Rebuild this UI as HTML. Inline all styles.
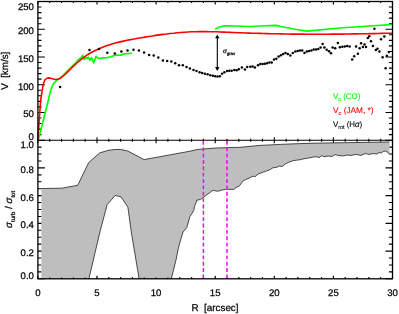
<!DOCTYPE html><html><head><meta charset="utf-8"><style>html,body{margin:0;padding:0;background:#fff}svg{display:block;will-change:transform}text{font-family:"Liberation Sans",sans-serif;fill:#000;text-rendering:geometricPrecision;stroke:#000;stroke-width:0.25px}</style></head><body>
<svg width="399" height="314" viewBox="0 0 399 314">
<rect width="399" height="314" fill="#fff"/>
<path d="M37.9,140.20 h7.0 M392.5,140.20 h-7.0 M37.9,134.65 h3.6 M392.5,134.65 h-3.6 M37.9,129.10 h3.6 M392.5,129.10 h-3.6 M37.9,123.56 h3.6 M392.5,123.56 h-3.6 M37.9,118.01 h3.6 M392.5,118.01 h-3.6 M37.9,112.46 h7.0 M392.5,112.46 h-7.0 M37.9,106.91 h3.6 M392.5,106.91 h-3.6 M37.9,101.36 h3.6 M392.5,101.36 h-3.6 M37.9,95.82 h3.6 M392.5,95.82 h-3.6 M37.9,90.27 h3.6 M392.5,90.27 h-3.6 M37.9,84.72 h7.0 M392.5,84.72 h-7.0 M37.9,79.17 h3.6 M392.5,79.17 h-3.6 M37.9,73.62 h3.6 M392.5,73.62 h-3.6 M37.9,68.08 h3.6 M392.5,68.08 h-3.6 M37.9,62.53 h3.6 M392.5,62.53 h-3.6 M37.9,56.98 h7.0 M392.5,56.98 h-7.0 M37.9,51.43 h3.6 M392.5,51.43 h-3.6 M37.9,45.88 h3.6 M392.5,45.88 h-3.6 M37.9,40.34 h3.6 M392.5,40.34 h-3.6 M37.9,34.79 h3.6 M392.5,34.79 h-3.6 M37.9,29.24 h7.0 M392.5,29.24 h-7.0 M37.9,23.69 h3.6 M392.5,23.69 h-3.6 M37.9,18.14 h3.6 M392.5,18.14 h-3.6 M37.9,12.60 h3.6 M392.5,12.60 h-3.6 M37.9,7.05 h3.6 M392.5,7.05 h-3.6 M37.9,1.50 h7.0 M392.5,1.50 h-7.0 M37.9,278.80 h7.0 M392.5,278.80 h-7.0 M37.9,271.87 h3.6 M392.5,271.87 h-3.6 M37.9,264.94 h3.6 M392.5,264.94 h-3.6 M37.9,258.01 h3.6 M392.5,258.01 h-3.6 M37.9,251.08 h7.0 M392.5,251.08 h-7.0 M37.9,244.15 h3.6 M392.5,244.15 h-3.6 M37.9,237.22 h3.6 M392.5,237.22 h-3.6 M37.9,230.29 h3.6 M392.5,230.29 h-3.6 M37.9,223.36 h7.0 M392.5,223.36 h-7.0 M37.9,216.43 h3.6 M392.5,216.43 h-3.6 M37.9,209.50 h3.6 M392.5,209.50 h-3.6 M37.9,202.57 h3.6 M392.5,202.57 h-3.6 M37.9,195.64 h7.0 M392.5,195.64 h-7.0 M37.9,188.71 h3.6 M392.5,188.71 h-3.6 M37.9,181.78 h3.6 M392.5,181.78 h-3.6 M37.9,174.85 h3.6 M392.5,174.85 h-3.6 M37.9,167.92 h7.0 M392.5,167.92 h-7.0 M37.9,160.99 h3.6 M392.5,160.99 h-3.6 M37.9,154.06 h3.6 M392.5,154.06 h-3.6 M37.9,147.13 h3.6 M392.5,147.13 h-3.6 M37.9,140.20 h7.0 M392.5,140.20 h-7.0 M37.90,1.5 v3.0 M37.90,137.2 v6.0 M37.90,278.8 v-3.0 M49.72,1.5 v1.5 M49.72,138.7 v3.0 M49.72,278.8 v-1.5 M61.54,1.5 v1.5 M61.54,138.7 v3.0 M61.54,278.8 v-1.5 M73.36,1.5 v1.5 M73.36,138.7 v3.0 M73.36,278.8 v-1.5 M85.18,1.5 v1.5 M85.18,138.7 v3.0 M85.18,278.8 v-1.5 M97.00,1.5 v3.0 M97.00,137.2 v6.0 M97.00,278.8 v-3.0 M108.82,1.5 v1.5 M108.82,138.7 v3.0 M108.82,278.8 v-1.5 M120.64,1.5 v1.5 M120.64,138.7 v3.0 M120.64,278.8 v-1.5 M132.46,1.5 v1.5 M132.46,138.7 v3.0 M132.46,278.8 v-1.5 M144.28,1.5 v1.5 M144.28,138.7 v3.0 M144.28,278.8 v-1.5 M156.10,1.5 v3.0 M156.10,137.2 v6.0 M156.10,278.8 v-3.0 M167.92,1.5 v1.5 M167.92,138.7 v3.0 M167.92,278.8 v-1.5 M179.74,1.5 v1.5 M179.74,138.7 v3.0 M179.74,278.8 v-1.5 M191.56,1.5 v1.5 M191.56,138.7 v3.0 M191.56,278.8 v-1.5 M203.38,1.5 v1.5 M203.38,138.7 v3.0 M203.38,278.8 v-1.5 M215.20,1.5 v3.0 M215.20,137.2 v6.0 M215.20,278.8 v-3.0 M227.02,1.5 v1.5 M227.02,138.7 v3.0 M227.02,278.8 v-1.5 M238.84,1.5 v1.5 M238.84,138.7 v3.0 M238.84,278.8 v-1.5 M250.66,1.5 v1.5 M250.66,138.7 v3.0 M250.66,278.8 v-1.5 M262.48,1.5 v1.5 M262.48,138.7 v3.0 M262.48,278.8 v-1.5 M274.30,1.5 v3.0 M274.30,137.2 v6.0 M274.30,278.8 v-3.0 M286.12,1.5 v1.5 M286.12,138.7 v3.0 M286.12,278.8 v-1.5 M297.94,1.5 v1.5 M297.94,138.7 v3.0 M297.94,278.8 v-1.5 M309.76,1.5 v1.5 M309.76,138.7 v3.0 M309.76,278.8 v-1.5 M321.58,1.5 v1.5 M321.58,138.7 v3.0 M321.58,278.8 v-1.5 M333.40,1.5 v3.0 M333.40,137.2 v6.0 M333.40,278.8 v-3.0 M345.22,1.5 v1.5 M345.22,138.7 v3.0 M345.22,278.8 v-1.5 M357.04,1.5 v1.5 M357.04,138.7 v3.0 M357.04,278.8 v-1.5 M368.86,1.5 v1.5 M368.86,138.7 v3.0 M368.86,278.8 v-1.5 M380.68,1.5 v1.5 M380.68,138.7 v3.0 M380.68,278.8 v-1.5 M392.50,1.5 v3.0 M392.50,137.2 v6.0 M392.50,278.8 v-3.0" stroke="#000" stroke-width="1.1" fill="none"/>
<path d="M41.4,188.5 L61.8,188.2 L77.7,185.3 L88.7,162.6 L95.0,157.0 L99.5,153.0 L107.9,150.4 L114.8,149.5 L120.9,149.5 L127.8,151.0 L135.0,154.8 L144.1,159.6 L190.0,151.2 L197.2,149.5 L215.6,148.0 L240.0,147.3 L260.0,145.4 L280.1,144.4 L300.2,143.6 L320.0,143.1 L389.6,142.0 L389.6,154.0 L387.2,152.0 L385.2,151.0 L383.2,151.6 L381.2,153.0 L379.1,152.4 L377.1,154.0 L373.1,153.6 L369.1,154.4 L365.1,153.6 L361.1,155.4 L356.1,154.4 L351.0,155.4 L347.0,155.0 L343.0,156.0 L339.0,155.6 L335.0,154.6 L332.0,156.5 L328.0,156.0 L324.0,156.7 L322.0,155.6 L319.0,157.6 L316.2,156.7 L312.2,157.3 L308.2,158.1 L304.2,158.7 L300.2,159.7 L297.1,160.1 L293.1,160.7 L289.1,162.1 L285.1,164.1 L282.1,166.5 L279.1,166.1 L276.1,167.5 L273.1,167.7 L270.1,169.7 L266.1,171.1 L262.1,172.5 L258.0,174.1 L255.0,176.7 L253.0,176.1 L251.0,177.1 L248.0,178.7 L245.5,179.6 L243.6,180.4 L241.5,183.0 L239.0,186.4 L236.7,187.2 L233.6,189.5 L226.7,189.2 L222.1,190.0 L217.6,191.3 L213.0,190.3 L206.8,194.8 L200.7,199.4 L196.9,200.2 L194.6,206.3 L193.7,210.7 L189.8,216.8 L186.8,227.6 L183.0,232.1 L180.7,239.8 L178.4,248.1 L176.0,259.9 L171.3,278.8 L139.1,278.8 L131.3,232.0 L127.9,207.2 L121.0,196.8 L115.2,195.4 L107.2,204.6 L99.9,232.0 L88.9,278.8 L41.4,278.8 Z" fill="#bebebe" stroke="none"/>
<path d="M41.4,188.5 L61.8,188.2 L77.7,185.3 L88.7,162.6 L95.0,157.0 L99.5,153.0 L107.9,150.4 L114.8,149.5 L120.9,149.5 L127.8,151.0 L135.0,154.8 L144.1,159.6 L190.0,151.2 L197.2,149.5 L215.6,148.0 L240.0,147.3 L260.0,145.4 L280.1,144.4 L300.2,143.6 L320.0,143.1 L389.6,142.0" fill="none" stroke="#222" stroke-width="0.8" stroke-linejoin="round"/>
<path d="M389.6,154.0 L387.2,152.0 L385.2,151.0 L383.2,151.6 L381.2,153.0 L379.1,152.4 L377.1,154.0 L373.1,153.6 L369.1,154.4 L365.1,153.6 L361.1,155.4 L356.1,154.4 L351.0,155.4 L347.0,155.0 L343.0,156.0 L339.0,155.6 L335.0,154.6 L332.0,156.5 L328.0,156.0 L324.0,156.7 L322.0,155.6 L319.0,157.6 L316.2,156.7 L312.2,157.3 L308.2,158.1 L304.2,158.7 L300.2,159.7 L297.1,160.1 L293.1,160.7 L289.1,162.1 L285.1,164.1 L282.1,166.5 L279.1,166.1 L276.1,167.5 L273.1,167.7 L270.1,169.7 L266.1,171.1 L262.1,172.5 L258.0,174.1 L255.0,176.7 L253.0,176.1 L251.0,177.1 L248.0,178.7 L245.5,179.6 L243.6,180.4 L241.5,183.0 L239.0,186.4 L236.7,187.2 L233.6,189.5 L226.7,189.2 L222.1,190.0 L217.6,191.3 L213.0,190.3 L206.8,194.8 L200.7,199.4 L196.9,200.2 L194.6,206.3 L193.7,210.7 L189.8,216.8 L186.8,227.6 L183.0,232.1 L180.7,239.8 L178.4,248.1 L176.0,259.9 L171.3,278.8" fill="none" stroke="#222" stroke-width="0.8" stroke-linejoin="round"/>
<path d="M139.1,278.8 L131.3,232.0 L127.9,207.2 L121.0,196.8 L115.2,195.4 L107.2,204.6 L99.9,232.0 L88.9,278.8" fill="none" stroke="#222" stroke-width="0.8" stroke-linejoin="round"/>
<path d="M37.90,278.8 v-1.4 M49.72,278.8 v-1.4 M61.54,278.8 v-1.4 M73.36,278.8 v-1.4 M85.18,278.8 v-1.4 M97.00,278.8 v-1.4 M108.82,278.8 v-1.4 M120.64,278.8 v-1.4 M132.46,278.8 v-1.4 M144.28,278.8 v-1.4 M156.10,278.8 v-1.4 M167.92,278.8 v-1.4 M179.74,278.8 v-1.4 M191.56,278.8 v-1.4 M203.38,278.8 v-1.4 M215.20,278.8 v-1.4 M227.02,278.8 v-1.4 M238.84,278.8 v-1.4 M250.66,278.8 v-1.4 M262.48,278.8 v-1.4 M274.30,278.8 v-1.4 M286.12,278.8 v-1.4 M297.94,278.8 v-1.4 M309.76,278.8 v-1.4 M321.58,278.8 v-1.4 M333.40,278.8 v-1.4 M345.22,278.8 v-1.4 M357.04,278.8 v-1.4 M368.86,278.8 v-1.4 M380.68,278.8 v-1.4 M392.50,278.8 v-1.4" stroke="#000" stroke-width="1.1" fill="none"/>
<line x1="203.4" y1="140.9" x2="203.4" y2="278.8" stroke="#ff00ff" stroke-width="1.5" stroke-dasharray="3.9 2.46"/>
<line x1="227.0" y1="140.9" x2="227.0" y2="278.8" stroke="#ff00ff" stroke-width="1.5" stroke-dasharray="3.9 2.46"/>
<path d="M38.4,139.6 L48.4,100.0 L50.3,91.9 L52.2,86.1 L54.1,83.0 L56.7,80.4 L59.2,78.9 L61.8,76.6 L65.6,72.8 L69.4,68.9 L73.3,65.1 L77.1,61.3 L78.1,59.8 L81.1,57.6 L82.7,55.3 L84.2,59.4 L85.7,57.6 L87.2,58.3 L88.5,57.2 L89.8,60.3 L91.5,57.6 L93.7,62.9 L96.1,56.3 L98.0,58.3 L100.3,58.3 L103.3,57.9 L107.1,57.6 L111.0,56.8 L114.8,55.3 L117.9,55.0 L120.9,55.3 L124.0,53.7 L127.8,53.7 L131.9,53.0" fill="none" stroke="#00ff00" stroke-width="1.65" stroke-linejoin="round"/>
<path d="M215.2,28.9 L219.0,27.3 L224.4,25.8 L235.0,26.0 L250.3,26.5 L265.6,25.7 L276.3,25.4 L280.9,26.5 L295.0,29.3 L306.8,31.1 L340.0,28.0 L392.0,24.5" fill="none" stroke="#00ff00" stroke-width="1.65" stroke-linejoin="round"/>
<path d="M37.8,139.6 L40.7,100.0 L42.0,91.9 L43.3,84.2 L44.6,80.4 L46.5,78.5 L49.0,77.9 L51.6,78.5 L55.4,79.5 L58.6,79.1 L61.8,77.2 L65.6,74.0 L69.4,70.2 L73.3,66.3 L76.9,63.0 L80.5,59.9 L84.1,57.1 L87.6,54.7 L91.2,52.5 L94.8,50.7 L98.4,49.0 L102.0,47.5 L105.6,46.1 L109.1,44.9 L112.7,43.8 L116.3,42.8 L119.9,41.9 L123.5,41.1 L127.1,40.3 L130.6,39.6 L134.2,39.0 L137.8,38.3 L141.4,37.7 L145.0,37.1 L148.6,36.5 L152.2,36.0 L155.7,35.4 L159.3,34.9 L162.9,34.4 L166.5,34.0 L170.1,33.5 L173.7,33.2 L177.2,32.8 L180.8,32.5 L184.4,32.2 L188.0,32.0 L191.6,31.8 L195.2,31.7 L198.7,31.6 L202.3,31.6 L205.9,31.6 L209.5,31.7 L213.1,31.7 L216.7,31.8 L220.3,32.0 L223.8,32.1 L227.4,32.2 L231.0,32.4 L234.6,32.5 L238.2,32.7 L241.8,32.8 L245.3,33.0 L248.9,33.1 L252.5,33.2 L256.1,33.3 L259.7,33.4 L263.3,33.5 L266.9,33.6 L270.4,33.7 L274.0,33.8 L277.6,33.8 L281.2,33.9 L284.8,34.0 L288.4,34.0 L291.9,34.1 L295.5,34.1 L299.1,34.1 L302.7,34.1 L306.3,34.2 L309.9,34.2 L313.4,34.2 L317.0,34.2 L320.6,34.2 L324.2,34.2 L327.8,34.2 L331.4,34.1 L335.0,34.1 L338.5,34.1 L342.1,34.1 L345.7,34.0 L349.3,34.0 L352.9,33.9 L356.5,33.9 L360.0,33.8 L363.6,33.8 L367.2,33.7 L370.8,33.6 L374.4,33.6 L378.0,33.5 L381.5,33.4 L385.1,33.3 L388.7,33.3 L392.3,33.2" fill="none" stroke="#ff0000" stroke-width="1.6" stroke-linejoin="round"/>
<circle cx="60.1" cy="87.0" r="1.25" fill="#000"/>
<circle cx="89.5" cy="49.9" r="1.25" fill="#000"/>
<circle cx="99.0" cy="49.0" r="1.25" fill="#000"/>
<circle cx="107.3" cy="52.8" r="1.25" fill="#000"/>
<circle cx="114.8" cy="53.4" r="1.25" fill="#000"/>
<circle cx="121.4" cy="51.4" r="1.25" fill="#000"/>
<circle cx="127.5" cy="50.4" r="1.25" fill="#000"/>
<circle cx="133.5" cy="49.8" r="1.25" fill="#000"/>
<circle cx="138.9" cy="50.6" r="1.25" fill="#000"/>
<circle cx="144.1" cy="52.6" r="1.25" fill="#000"/>
<circle cx="149.1" cy="54.9" r="1.25" fill="#000"/>
<circle cx="153.7" cy="55.5" r="1.25" fill="#000"/>
<circle cx="158.3" cy="57.5" r="1.25" fill="#000"/>
<circle cx="162.9" cy="60.6" r="1.25" fill="#000"/>
<circle cx="167.2" cy="61.0" r="1.25" fill="#000"/>
<circle cx="171.3" cy="61.6" r="1.25" fill="#000"/>
<circle cx="175.2" cy="63.3" r="1.25" fill="#000"/>
<circle cx="179.0" cy="65.2" r="1.25" fill="#000"/>
<circle cx="182.8" cy="65.2" r="1.25" fill="#000"/>
<circle cx="186.5" cy="66.9" r="1.25" fill="#000"/>
<circle cx="189.9" cy="68.4" r="1.25" fill="#000"/>
<circle cx="193.5" cy="69.9" r="1.25" fill="#000"/>
<circle cx="196.5" cy="71.1" r="1.25" fill="#000"/>
<circle cx="199.6" cy="72.2" r="1.25" fill="#000"/>
<circle cx="202.2" cy="73.0" r="1.25" fill="#000"/>
<circle cx="204.8" cy="73.7" r="1.25" fill="#000"/>
<circle cx="207.6" cy="74.2" r="1.25" fill="#000"/>
<circle cx="210.3" cy="75.3" r="1.25" fill="#000"/>
<circle cx="212.9" cy="75.7" r="1.25" fill="#000"/>
<circle cx="215.2" cy="76.3" r="1.25" fill="#000"/>
<circle cx="217.5" cy="76.6" r="1.25" fill="#000"/>
<circle cx="219.8" cy="76.3" r="1.25" fill="#000"/>
<circle cx="222.1" cy="73.7" r="1.25" fill="#000"/>
<circle cx="224.4" cy="72.2" r="1.25" fill="#000"/>
<circle cx="227.1" cy="71.1" r="1.25" fill="#000"/>
<circle cx="229.3" cy="70.7" r="1.25" fill="#000"/>
<circle cx="231.7" cy="70.7" r="1.25" fill="#000"/>
<circle cx="234.3" cy="69.9" r="1.25" fill="#000"/>
<circle cx="236.6" cy="70.3" r="1.25" fill="#000"/>
<circle cx="238.8" cy="69.3" r="1.25" fill="#000"/>
<circle cx="241.9" cy="67.5" r="1.25" fill="#000"/>
<circle cx="244.9" cy="69.4" r="1.25" fill="#000"/>
<circle cx="247.2" cy="67.1" r="1.25" fill="#000"/>
<circle cx="250.3" cy="66.8" r="1.25" fill="#000"/>
<circle cx="252.6" cy="66.4" r="1.25" fill="#000"/>
<circle cx="254.9" cy="67.5" r="1.25" fill="#000"/>
<circle cx="258.0" cy="65.3" r="1.25" fill="#000"/>
<circle cx="260.3" cy="64.1" r="1.25" fill="#000"/>
<circle cx="262.6" cy="64.1" r="1.25" fill="#000"/>
<circle cx="264.8" cy="63.8" r="1.25" fill="#000"/>
<circle cx="267.1" cy="63.3" r="1.25" fill="#000"/>
<circle cx="269.4" cy="62.6" r="1.25" fill="#000"/>
<circle cx="271.7" cy="62.6" r="1.25" fill="#000"/>
<circle cx="274.0" cy="59.5" r="1.25" fill="#000"/>
<circle cx="276.3" cy="58.7" r="1.25" fill="#000"/>
<circle cx="278.6" cy="56.4" r="1.25" fill="#000"/>
<circle cx="280.9" cy="55.2" r="1.25" fill="#000"/>
<circle cx="283.2" cy="54.1" r="1.25" fill="#000"/>
<circle cx="285.5" cy="53.1" r="1.25" fill="#000"/>
<circle cx="287.8" cy="54.1" r="1.25" fill="#000"/>
<circle cx="290.3" cy="55.5" r="1.25" fill="#000"/>
<circle cx="292.8" cy="53.1" r="1.25" fill="#000"/>
<circle cx="295.4" cy="51.6" r="1.25" fill="#000"/>
<circle cx="297.7" cy="51.0" r="1.25" fill="#000"/>
<circle cx="299.9" cy="50.6" r="1.25" fill="#000"/>
<circle cx="302.2" cy="50.6" r="1.25" fill="#000"/>
<circle cx="304.5" cy="52.9" r="1.25" fill="#000"/>
<circle cx="306.8" cy="51.6" r="1.25" fill="#000"/>
<circle cx="309.1" cy="51.0" r="1.25" fill="#000"/>
<circle cx="311.4" cy="50.6" r="1.25" fill="#000"/>
<circle cx="313.7" cy="49.5" r="1.25" fill="#000"/>
<circle cx="316.0" cy="49.5" r="1.25" fill="#000"/>
<circle cx="318.3" cy="49.0" r="1.25" fill="#000"/>
<circle cx="320.6" cy="47.5" r="1.25" fill="#000"/>
<circle cx="322.6" cy="44.0" r="1.25" fill="#000"/>
<circle cx="324.4" cy="47.5" r="1.25" fill="#000"/>
<circle cx="326.7" cy="49.8" r="1.25" fill="#000"/>
<circle cx="329.0" cy="51.3" r="1.25" fill="#000"/>
<circle cx="331.0" cy="53.2" r="1.25" fill="#000"/>
<circle cx="332.6" cy="47.5" r="1.25" fill="#000"/>
<circle cx="335.2" cy="48.3" r="1.25" fill="#000"/>
<circle cx="337.9" cy="42.9" r="1.25" fill="#000"/>
<circle cx="339.9" cy="47.2" r="1.25" fill="#000"/>
<circle cx="342.4" cy="46.7" r="1.25" fill="#000"/>
<circle cx="344.8" cy="46.4" r="1.25" fill="#000"/>
<circle cx="347.2" cy="46.1" r="1.25" fill="#000"/>
<circle cx="349.6" cy="46.4" r="1.25" fill="#000"/>
<circle cx="356.1" cy="46.4" r="1.25" fill="#000"/>
<circle cx="359.6" cy="48.2" r="1.25" fill="#000"/>
<circle cx="361.1" cy="43.3" r="1.25" fill="#000"/>
<circle cx="362.9" cy="47.0" r="1.25" fill="#000"/>
<circle cx="364.5" cy="44.4" r="1.25" fill="#000"/>
<circle cx="366.0" cy="47.1" r="1.25" fill="#000"/>
<circle cx="367.8" cy="38.0" r="1.25" fill="#000"/>
<circle cx="369.3" cy="36.3" r="1.25" fill="#000"/>
<circle cx="371.0" cy="41.3" r="1.25" fill="#000"/>
<circle cx="372.9" cy="45.9" r="1.25" fill="#000"/>
<circle cx="374.4" cy="28.8" r="1.25" fill="#000"/>
<circle cx="375.9" cy="50.0" r="1.25" fill="#000"/>
<circle cx="377.5" cy="48.7" r="1.25" fill="#000"/>
<circle cx="379.4" cy="51.4" r="1.25" fill="#000"/>
<circle cx="381.0" cy="39.3" r="1.25" fill="#000"/>
<circle cx="382.6" cy="57.2" r="1.25" fill="#000"/>
<circle cx="384.3" cy="36.4" r="1.25" fill="#000"/>
<circle cx="386.8" cy="55.8" r="1.25" fill="#000"/>
<circle cx="388.9" cy="52.0" r="1.25" fill="#000"/>
<circle cx="352.2" cy="59.6" r="1.25" fill="#000"/>
<circle cx="354.2" cy="56.3" r="1.25" fill="#000"/>
<circle cx="357.9" cy="53.8" r="1.25" fill="#000"/>
<circle cx="385.6" cy="68.3" r="1.25" fill="#000"/>
<path d="M217.3,36 V69.5" stroke="#000" stroke-width="1.1" fill="none"/>
<path d="M217.3,34.4 l-2.2,3.9 h4.4 Z M217.3,70.9 l-2.2,-3.9 h4.4 Z" fill="#000"/>
<rect x="37.9" y="1.5" width="354.6" height="277.3" fill="none" stroke="#000" stroke-width="1.3"/>
<line x1="37.9" y1="140.2" x2="392.5" y2="140.2" stroke="#000" stroke-width="1.1"/>
<defs><filter id="idf" x="0" y="0" width="399" height="314" filterUnits="userSpaceOnUse"><feOffset dx="0" dy="0"/></filter></defs><g filter="url(#idf)">
<text x="33.9" y="139.8" font-size="9.6" text-anchor="end">0</text>
<text x="33.9" y="117.4" font-size="9.6" text-anchor="end">50</text>
<text x="33.9" y="89.6" font-size="9.6" text-anchor="end">100</text>
<text x="33.9" y="61.9" font-size="9.6" text-anchor="end">150</text>
<text x="33.9" y="34.1" font-size="9.6" text-anchor="end">200</text>
<text x="33.9" y="9.7" font-size="9.6" text-anchor="end">250</text>
<text x="33.9" y="278.6" font-size="9.6" text-anchor="end">0.0</text>
<text x="33.9" y="256.0" font-size="9.6" text-anchor="end">0.2</text>
<text x="33.9" y="228.3" font-size="9.6" text-anchor="end">0.4</text>
<text x="33.9" y="200.5" font-size="9.6" text-anchor="end">0.6</text>
<text x="33.9" y="172.8" font-size="9.6" text-anchor="end">0.8</text>
<text x="33.9" y="148.3" font-size="9.6" text-anchor="end">1.0</text>
<text x="37.9" y="295.9" font-size="9.6" text-anchor="middle">0</text>
<text x="97.0" y="295.9" font-size="9.6" text-anchor="middle">5</text>
<text x="156.1" y="295.9" font-size="9.6" text-anchor="middle">10</text>
<text x="215.2" y="295.9" font-size="9.6" text-anchor="middle">15</text>
<text x="274.3" y="295.9" font-size="9.6" text-anchor="middle">20</text>
<text x="333.4" y="295.9" font-size="9.6" text-anchor="middle">25</text>
<text x="392.5" y="295.9" font-size="9.6" text-anchor="middle">30</text>
<text x="215" y="310.6" font-size="9.85" text-anchor="middle" xml:space="preserve">R  [arcsec]</text>
<text transform="translate(8.4,70.8) rotate(-90)" font-size="9.8" text-anchor="middle" xml:space="preserve">V  [km/s]</text>
<text transform="translate(11.6,209.4) rotate(-90)" font-size="9.8" text-anchor="middle" xml:space="preserve"><tspan font-style="italic">σ</tspan><tspan font-size="6" dy="3.2">turb</tspan><tspan dy="-3.2"> / </tspan><tspan font-style="italic">σ</tspan><tspan font-size="6" dy="3.2">tot</tspan></text>
<text x="333" y="98.8" font-size="8.3" textLength="27.4" lengthAdjust="spacingAndGlyphs" style="fill:#00ff00;stroke:#00ff00;stroke-width:0.1px" xml:space="preserve">V<tspan font-size="5.6" dy="2.4">c</tspan><tspan dy="-2.4"> (CO)</tspan></text>
<text x="333" y="112.9" font-size="8.3" style="fill:#ff0000;stroke:#ff0000;stroke-width:0.1px" xml:space="preserve">V<tspan font-size="5.6" dy="2.4">c</tspan><tspan dy="-2.4"> (JAM, *)</tspan></text>
<text x="333" y="126.8" font-size="8.3" textLength="29.2" lengthAdjust="spacingAndGlyphs" style="stroke-width:0.1px" xml:space="preserve">V<tspan font-size="5.6" dy="2.4">rot</tspan><tspan dy="-2.4"> (H<tspan font-style="italic">α</tspan>)</tspan></text>
<text x="222.9" y="53.2" font-size="6.3" xml:space="preserve"><tspan font-style="italic">σ</tspan><tspan font-size="4.3" dy="1.6">grav</tspan></text>
</g>
</svg></body></html>
